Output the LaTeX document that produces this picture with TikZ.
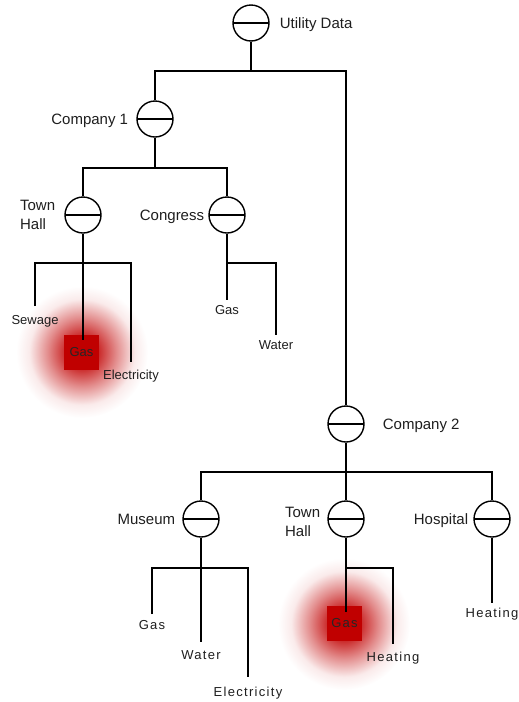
\documentclass[tikz,border=0pt]{standalone}
\usepackage{fontspec}
\setmainfont{Liberation Sans}
\definecolor{boxred}{RGB}{192,0,0}
\definecolor{txt}{RGB}{30,30,30}
\pgfdeclareradialshading{glow}{\pgfpoint{0bp}{0bp}}{color(0bp)=(boxred); color(6bp)=(boxred!85!white); color(13bp)=(boxred!45!white); color(20bp)=(boxred!8!white); color(25bp)=(white); color(50bp)=(white)}
\begin{document}
\begin{tikzpicture}[x=1pt,y=-1pt,
  db/.style={circle, draw, line width=1.4pt, minimum size=36pt, inner sep=0pt,
    path picture={\draw[line width=1.3pt] (path picture bounding box.west) -- (path picture bounding box.east);}},
  lab/.style={font=\fontsize{15}{19}\selectfont, text=txt, inner sep=0pt},
  leaf/.style={font=\fontsize{13}{15}\selectfont, text=txt, inner xsep=0pt, anchor=north},
  leafs/.style={leaf, font=\fontsize{13}{15}\selectfont\addfontfeatures{LetterSpace=10}},
  gasbox/.style={fill=boxred, minimum size=35pt, inner sep=0pt, text=black!85},
  edge/.style={line width=2pt},
  trunk/.style={line width=2.6pt}]
\useasboundingbox (0,0) rectangle (519,702);
% glows
\shade[shading=glow] (82,352) circle (66);
\shade[shading=glow] (344,624) circle (66);
% gas boxes
\node[gasbox, font=\fontsize{13}{15}\selectfont] (g1) at (81.5,352.5) {Gas};
\node[gasbox, font=\fontsize{13}{15}\selectfont\addfontfeatures{LetterSpace=10}] (g2) at (344.5,623.5) {Gas};
% main nodes
\node[db] (ud) at (251,23) {};
\node[db] (c1) at (155,119) {};
\node[db] (th1) at (83,215) {};
\node[db] (cg) at (227,215) {};
\node[db] (c2) at (346,424) {};
\node[db] (mu) at (201,519) {};
\node[db] (th2) at (346,519) {};
\node[db] (ho) at (492,519) {};
% labels
\node[lab, anchor=base west] (udl) at ([xshift=10pt,yshift=-5.4pt]ud.east) {Utility Data};
\node[lab, anchor=base east] (c1l) at ([xshift=-8pt,yshift=-5.4pt]c1.west) {Company 1};
\node[lab, anchor=east, align=left] (th1l) at ([xshift=-9pt]th1.west) {Town\\Hall};
\node[lab, anchor=base east] (cgl) at ([xshift=-4pt,yshift=-5.4pt]cg.west) {Congress};
\node[lab, anchor=base west] (c2l) at ([xshift=18pt,yshift=-5.4pt]c2.east) {Company 2};
\node[lab, anchor=base east] (mul) at ([xshift=-7pt,yshift=-5.4pt]mu.west) {Museum};
\node[lab, anchor=east, align=left] (th2l) at ([xshift=-7pt,yshift=-3pt]th2.west) {Town\\Hall};
\node[lab, anchor=base east] (hol) at ([xshift=-5pt,yshift=-5.4pt]ho.west) {Hospital};
% leaves
\node[leaf, inner ysep=9pt] (sew) at (35,306) {Sewage};
\node[leaf, inner ysep=8pt] (el1) at (131,362) {Electricity};
\node[leaf, inner ysep=5pt] (ga2) at (227,300) {Gas};
\node[leaf, inner ysep=5pt] (wa1) at (276,335) {Water};
\node[leafs, inner ysep=6pt] (ga3) at (152,614) {Gas};
\node[leafs, inner ysep=8pt] (wa2) at (201,642) {Water};
\node[leafs, inner ysep=10pt] (el2) at (248,677) {Electricity};
\node[leafs, inner ysep=8pt] (he1) at (393,644) {Heating};
\node[leafs, inner ysep=5pt] (he2) at (492,603) {Heating};
% bus coordinates
\coordinate (b0) at (251,71);
\coordinate (b1) at (155,168);
\coordinate (b2) at (83,263);
\coordinate (b3) at (227,263);
\coordinate (b4) at (346,472);
\coordinate (b5) at (201,568);
\coordinate (b6) at (346,568);
\coordinate (g1end) at (83,340);
\coordinate (g2end) at (346,612);
% connectors
\draw[edge] (ud.south) -- (b0);
\draw[edge] (c1.north) |- (b0);
\draw[trunk] (b0) -| (c2.north);
\draw[edge] (c1.south) -- (b1);
\draw[edge] (th1.north) |- (b1) -| (cg.north);
\draw[edge] (sew.north) |- (b2) -| (el1.north);
\draw[edge] (th1.south) -- (g1end);
\draw[edge] (cg.south) -- (ga2.north);
\draw[edge] (b3) -| (wa1.north);
\draw[trunk] (c2.south) -- (b4);
\draw[edge] (b4) -- (th2.north);
\draw[edge] (mu.north) |- (b4) -| (ho.north);
\draw[edge] (ga3.north) |- (b5) -| (el2.north);
\draw[edge] (mu.south) -- (wa2.north);
\draw[edge] (th2.south) -- (g2end);
\draw[edge] (b6) -| (he1.north);
\draw[trunk] (ho.south) -- (he2.north);
\end{tikzpicture}
\end{document}
